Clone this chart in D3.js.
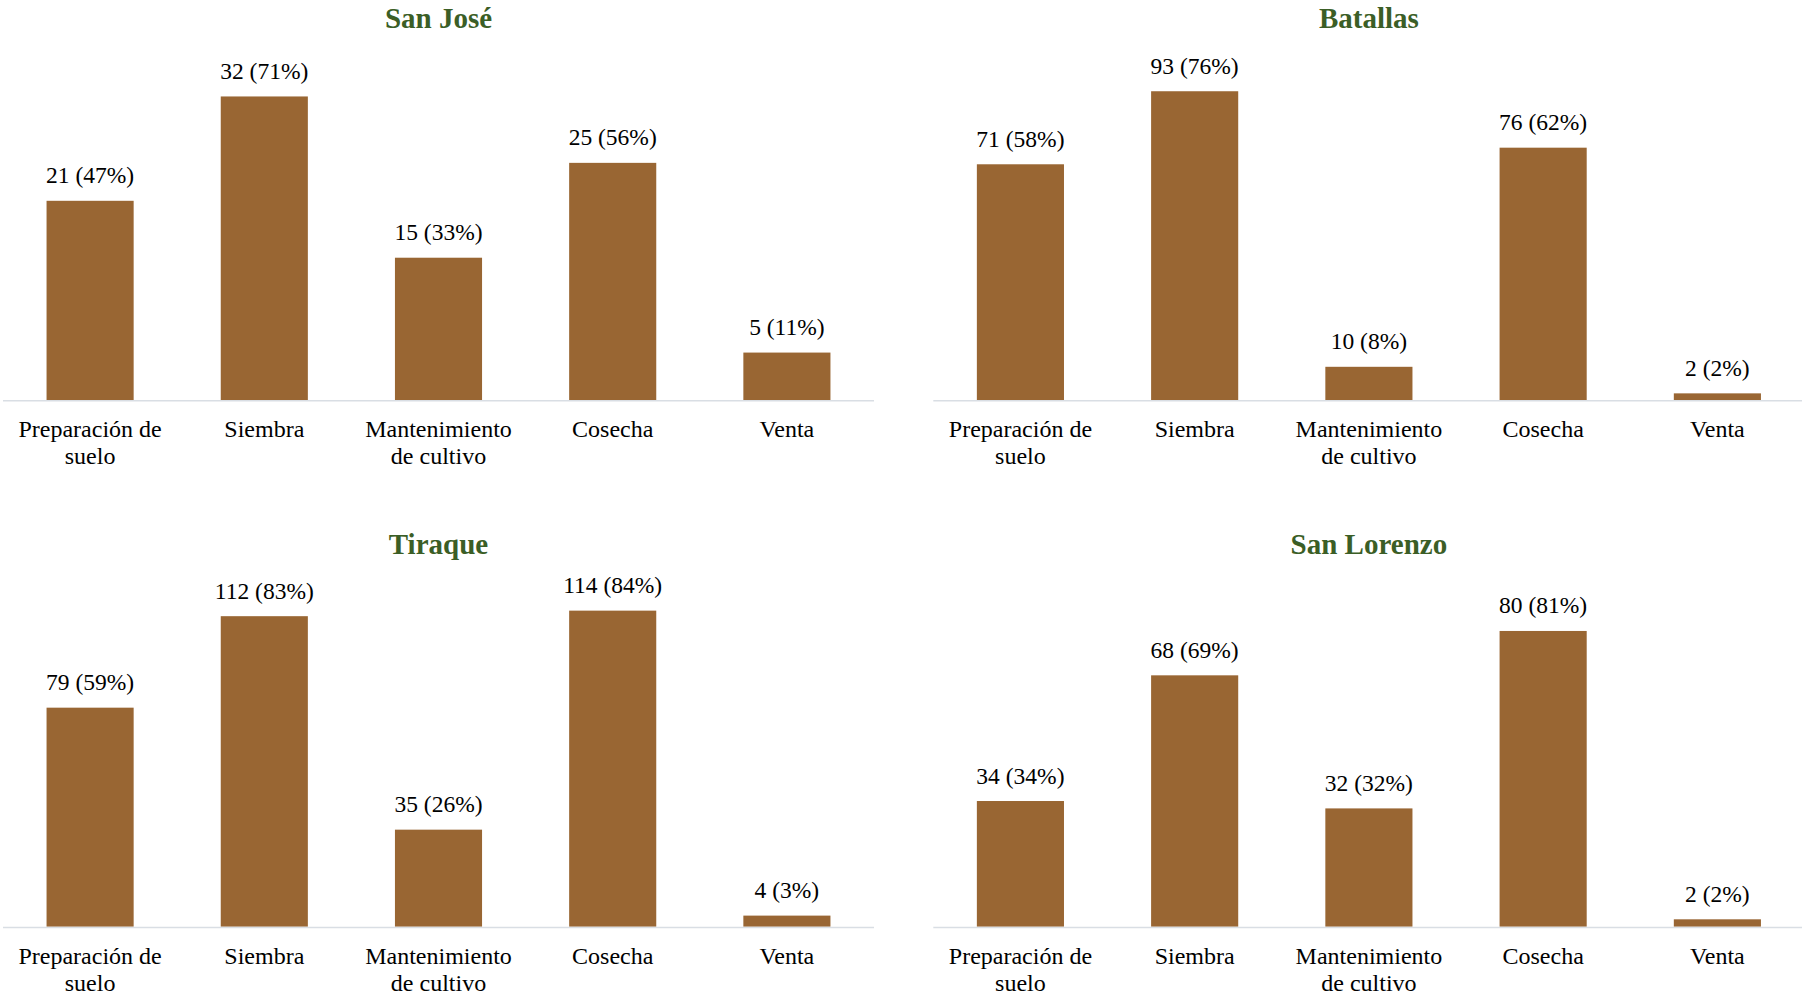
<!DOCTYPE html>
<html>
<head>
<meta charset="utf-8">
<script src="https://cdn.jsdelivr.net/npm/d3@7/dist/d3.min.js"></script>
<style>
  html, body { margin: 0; padding: 0; background: #ffffff; }
  svg { display: block; }
</style>
</head>
<body>
<svg id="chart" width="1802" height="995"></svg>
<script>
// ---- Data ----
const categories = ["Preparación de suelo", "Siembra", "Mantenimiento de cultivo", "Cosecha", "Venta"];
const categoryLines = [["Preparación de", "suelo"], ["Siembra"], ["Mantenimiento", "de cultivo"], ["Cosecha"], ["Venta"]];
const regions = ["San José", "Batallas", "Tiraque", "San Lorenzo"];

const sanJoseCounts = [21, 32, 15, 25, 5];
const sanJosePct = [47, 71, 33, 56, 11];
const batallasCounts = [71, 93, 10, 76, 2];
const batallasPct = [58, 76, 8, 62, 2];
const tiraqueCounts = [79, 112, 35, 114, 4];
const tiraquePct = [59, 83, 26, 84, 3];
const sanLorenzoCounts = [34, 68, 32, 80, 2];
const sanLorenzoPct = [34, 69, 32, 81, 2];

const axisMax = [35, 100, 120, 90];

const counts = [sanJoseCounts, batallasCounts, tiraqueCounts, sanLorenzoCounts];
const pcts = [sanJosePct, batallasPct, tiraquePct, sanLorenzoPct];

// ---- Layout ----
const colRanges = [[3, 874], [933.3, 1804.5]];
const rowRanges = [[68, 400], [594, 926.7]]; // [top, baseline]
const barColor = "#996633";
const titleColor = "#3b5e26";
const axisColor = "#d9dee4";
const serif = "'Liberation Serif', 'Times New Roman', Times, serif";

const svg = d3.select("#chart");

regions.forEach((name, i) => {
  const col = i % 2, row = Math.floor(i / 2);
  const [x0, x1] = colRanges[col];
  const [top, base] = rowRanges[row];

  const x = d3.scaleBand().domain(categories).range([x0, x1]).paddingInner(0.5).paddingOuter(0.25);
  const y = d3.scaleLinear().domain([0, axisMax[i]]).range([base, top]);

  const g = svg.append("g");

  // title
  g.append("text")
    .attr("x", (x0 + x1) / 2)
    .attr("y", top - 40)
    .attr("text-anchor", "middle")
    .style("font-family", serif)
    .style("font-weight", "bold")
    .style("font-size", "29px")
    .style("fill", titleColor)
    .text(name);

  const data = categories.map((c, k) => ({ cat: c, v: counts[i][k], p: pcts[i][k], lines: categoryLines[k] }));

  // bars
  g.selectAll("rect.bar").data(data).enter().append("rect")
    .attr("class", "bar")
    .attr("x", d => x(d.cat))
    .attr("width", x.bandwidth())
    .attr("y", d => y(d.v))
    .attr("height", d => y(0) - y(d.v))
    .attr("fill", barColor);

  // value labels
  g.selectAll("text.val").data(data).enter().append("text")
    .attr("class", "val")
    .attr("x", d => x(d.cat) + x.bandwidth() / 2)
    .attr("y", d => y(d.v) - 17.5)
    .attr("text-anchor", "middle")
    .style("font-family", serif)
    .style("font-size", "23.5px")
    .style("fill", "#000")
    .text(d => `${d.v} (${d.p}%)`);

  // x axis
  const axis = d3.axisBottom(x).tickSize(0).tickPadding(0).tickFormat("");
  const ag = g.append("g")
    .attr("transform", `translate(0,${base + 0.75})`)
    .call(axis);
  ag.select(".domain").attr("stroke", axisColor).attr("stroke-width", 1.5).attr("d", `M${x0},0H${x1}`);
  ag.selectAll(".tick").each(function(c, k) {
    const t = d3.select(this).select("text")
      .attr("y", 0).attr("dy", null)
      .style("font-family", serif)
      .style("font-size", "24px")
      .style("fill", "#000");
    categoryLines[k].forEach((ln, j) => {
      t.append("tspan").attr("x", 0).attr("y", 36.5 + j * 26.7).text(ln);
    });
  });
});
</script>
</body>
</html>
